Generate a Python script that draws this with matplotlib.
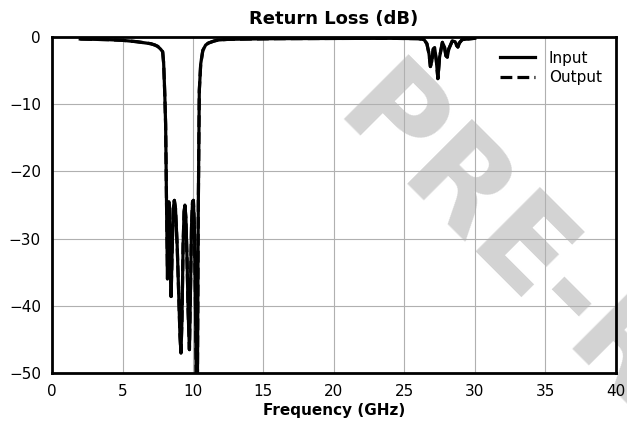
import matplotlib
matplotlib.use("Agg")
import matplotlib.pyplot as plt

# ---- data ----
freq_ghz = [2.0, 3.0, 4.0, 5.0, 6.0, 6.5, 7.0, 7.3, 7.5, 7.7, 7.85, 7.92, 8.0, 8.06,
            8.12, 8.19, 8.24, 8.29, 8.36, 8.45, 8.52, 8.60, 8.68, 8.76, 8.88, 9.00,
            9.08, 9.15, 9.22, 9.30, 9.37, 9.43, 9.50, 9.58, 9.66, 9.75, 9.83, 9.90,
            9.97, 10.03, 10.10, 10.17, 10.25, 10.32, 10.38, 10.45, 10.55, 10.7, 10.9,
            11.1, 11.5, 11.8, 12.5, 14.0, 16.0, 20.0, 24.0, 26.0, 26.4, 26.6, 26.75,
            26.85, 26.95, 27.05, 27.15, 27.27, 27.38, 27.5, 27.7, 27.85, 27.95, 28.05,
            28.15, 28.4, 28.6, 28.72, 28.8, 28.9, 29.1, 29.5, 30.0]

rl_input = [-0.3, -0.35, -0.4, -0.5, -0.7, -0.85, -1.0, -1.2, -1.4, -1.8, -2.2, -3.9,
            -8.5, -13.0, -24.0, -36.0, -29.0, -24.5, -29.0, -38.6, -32.0, -25.5, -24.3,
            -25.5, -31.0, -39.0, -44.5, -47.0, -42.0, -31.0, -26.0, -25.0, -27.0, -33.0,
            -41.0, -46.5, -37.0, -28.0, -24.5, -24.3, -28.0, -38.0, -55.0, -50.0, -25.0,
            -8.0, -4.0, -2.0, -1.2, -0.9, -0.6, -0.45, -0.35, -0.3, -0.25, -0.22, -0.2,
            -0.25, -0.4, -1.0, -2.5, -4.4, -3.6, -1.8, -1.6, -3.5, -6.2, -3.0, -0.8,
            -1.5, -2.8, -3.0, -1.8, -0.6, -0.7, -1.3, -1.5, -0.9, -0.4, -0.3, -0.2]

rl_output = [-0.3, -0.35, -0.4, -0.5, -0.7, -0.85, -1.0, -1.2, -1.4, -1.8, -2.2, -3.9,
             -8.5, -13.0, -24.0, -34.5, -29.0, -24.5, -29.0, -38.6, -32.0, -25.5, -24.3,
             -25.5, -31.0, -39.0, -44.5, -47.0, -42.0, -31.0, -26.0, -25.0, -27.0, -33.0,
             -41.0, -46.5, -37.0, -28.0, -24.5, -24.3, -28.0, -38.0, -55.0, -50.0, -25.0,
             -8.0, -4.0, -2.0, -1.2, -0.9, -0.6, -0.45, -0.35, -0.3, -0.25, -0.22, -0.2,
             -0.25, -0.4, -1.0, -2.5, -4.4, -3.6, -1.8, -1.6, -3.5, -6.2, -3.0, -0.8,
             -1.5, -2.8, -3.0, -1.8, -0.6, -0.7, -1.3, -1.5, -0.9, -0.4, -0.3, -0.2]

x_ticks = [0, 5, 10, 15, 20, 25, 30, 35, 40]
y_ticks = [0, -10, -20, -30, -40, -50]

# ---- figure ----
fig = plt.figure(figsize=(6.27, 4.25), dpi=100)
ax = fig.add_axes([0.083, 0.122, 0.899, 0.791])
ax.patch.set_alpha(0)

# watermark, kept behind the axes contents
fig.text(0.527, 0.72, "PRE-RELEASE", fontsize=90, fontweight="bold",
         color="#d3d3d3", rotation=-45, rotation_mode="anchor",
         ha="left", va="baseline", zorder=-1)

ax.plot(freq_ghz, rl_input, color="black", lw=2.3, label="Input", zorder=3)
ax.plot(freq_ghz, rl_output, color="black", lw=2.3, ls="--", label="Output", zorder=3)

ax.set_xlim(0, 40)
ax.set_ylim(-50, 0)
ax.set_xticks(x_ticks)
ax.set_yticks(y_ticks)
ax.tick_params(length=0, labelsize=11, pad=8)
ax.grid(True, color="#b0b0b0", lw=0.8)
ax.set_axisbelow(True)
for s in ax.spines.values():
    s.set_linewidth(2)
    s.set_zorder(4)

ax.set_title("Return Loss (dB)", fontsize=13, fontweight="bold", pad=9)
ax.set_xlabel("Frequency (GHz)", fontsize=11, fontweight="bold", labelpad=3)

ax.legend(loc="upper right", frameon=False, fontsize=11, handlelength=2.3,
          borderaxespad=0.5, labelspacing=0.3, handletextpad=0.9)

fig.savefig("out.png", dpi=100)
